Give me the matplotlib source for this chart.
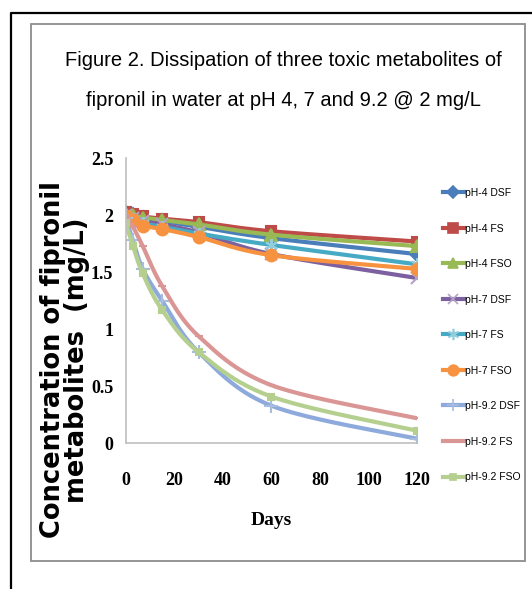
import numpy as np
import matplotlib
matplotlib.use('Agg')
import matplotlib.pyplot as plt
from matplotlib.lines import Line2D
from matplotlib.patches import Rectangle

days = [0, 3, 7, 15, 30, 60, 120]
ph4_dsf = [2.02, 2.00, 1.98, 1.95, 1.90, 1.80, 1.66]
ph4_fs = [2.03, 2.01, 1.99, 1.97, 1.94, 1.86, 1.77]
ph4_fso = [2.01, 2.00, 1.98, 1.96, 1.92, 1.83, 1.73]
ph7_dsf = [2.00, 1.98, 1.95, 1.92, 1.85, 1.66, 1.45]
ph7_fs = [2.00, 1.97, 1.93, 1.90, 1.84, 1.74, 1.57]
ph7_fso = [1.99, 1.96, 1.91, 1.88, 1.81, 1.65, 1.53]
ph92_dsf = [1.98, 1.78, 1.53, 1.25, 0.80, 0.33, 0.04]
ph92_fs = [2.00, 1.90, 1.73, 1.38, 0.94, 0.51, 0.22]
ph92_fso = [1.93, 1.73, 1.49, 1.17, 0.80, 0.41, 0.11]

labels = ['pH-4 DSF', 'pH-4 FS', 'pH-4 FSO', 'pH-7 DSF', 'pH-7 FS', 'pH-7 FSO',
          'pH-9.2 DSF', 'pH-9.2 FS', 'pH-9.2 FSO']
x_ticks = [0, 20, 40, 60, 80, 100, 120]
y_ticks = [0, 0.5, 1, 1.5, 2, 2.5]
y_tick_labels = ['0', '0.5', '1', '1.5', '2', '2.5']

series = [ph4_dsf, ph4_fs, ph4_fso, ph7_dsf, ph7_fs, ph7_fso, ph92_dsf, ph92_fs, ph92_fso]
colors = ['#4A7EBB', '#BE4B48', '#98B954', '#7D60A0', '#46AAC5', '#F69240',
          '#8EA9DB', '#DA9694', '#B5D08E']
marker_colors = ['#4A7EBB', '#BE4B48', '#98B954', '#B3A2C7', '#93CDDD', '#F69240',
                 '#A6BDE0', '#DA9694', '#B5D08E']
markers = ['D', 's', '^', 'x', (6, 2, 0), 'o', '+', '_', 's']
sizes = [7, 7.5, 8, 8, 9, 8.5, 10, 6, 5]


def smooth(x, y, n=25):
    # Excel style smoothed line (Catmull-Rom / Bezier)
    p = np.column_stack([x, y]).astype(float)
    out = []
    for i in range(len(p) - 1):
        p0 = p[i - 1] if i > 0 else p[i]
        p1, p2 = p[i], p[i + 1]
        p3 = p[i + 2] if i + 2 < len(p) else p[i + 1]
        c1 = p1 + (p2 - p0) / 6
        c2 = p2 - (p3 - p1) / 6
        t = np.linspace(0, 1, n)[:, None]
        out.append((1 - t) ** 3 * p1 + 3 * (1 - t) ** 2 * t * c1 + 3 * (1 - t) * t ** 2 * c2 + t ** 3 * p2)
    out = np.vstack(out)
    return out[:, 0], out[:, 1]


W, H = 532, 589
fig = plt.figure(figsize=(W / 100, H / 100), dpi=100)

# frames
fig.add_artist(Line2D([11 / W, 11 / W, 1.0], [0, 1 - 13 / H, 1 - 13 / H],
                      transform=fig.transFigure, color='black', lw=1.6))
fig.add_artist(Rectangle((31 / W, 1 - 561 / H), (525 - 31) / W, (561 - 24) / H,
                         transform=fig.transFigure, fill=False, ec='#8C8C8C', lw=1.3))

ax = fig.add_axes([125.7 / W, 1 - 443.3 / H, 291.3 / W, 285 / H])
ax.set_facecolor('none')

handles = []
for vals, c, mc, m, s, lab in zip(series, colors, marker_colors, markers, sizes, labels):
    sx, sy = smooth(days, vals)
    ax.plot(sx, sy, color=c, lw=3, solid_capstyle='round')
    ax.plot(days, vals, ls='none', marker=m, ms=s, color=mc, mec=mc, mew=1.5)
    handles.append(Line2D([], [], color=c, lw=3, marker=m, ms=s * 0.9, mfc=mc, mec=mc, mew=1.2))

ax.set_xlim(0, 120)
ax.set_ylim(0, 2.5)
ax.set_xticks(x_ticks)
ax.set_yticks(y_ticks)
ax.set_yticklabels(y_tick_labels)
for sp in ['top', 'right']:
    ax.spines[sp].set_visible(False)
for sp in ['left', 'bottom']:
    ax.spines[sp].set_color('#BFBFBF')
    ax.spines[sp].set_linewidth(1.2)
ax.tick_params(length=0)
ax.tick_params(axis='x', pad=21)
ax.tick_params(axis='y', pad=9)
for t in ax.get_xticklabels() + ax.get_yticklabels():
    t.set_fontfamily('Liberation Serif')
    t.set_fontweight('bold')
    t.set_fontsize(13)

ax.set_xlabel('Days', family='Liberation Serif', weight='bold', fontsize=14, labelpad=16)

fig.text(65 / W, 1 - 360 / H, 'Concentration of fipronil\nmetabolites  (mg/L)',
         rotation=90, ha='center', va='center', ma='center', fontsize=18.5,
         weight='bold', family='DejaVu Sans', linespacing=0.88)

title_font = ['Liberation Sans', 'DejaVu Sans']
fig.text(283 / W, 1 - 60 / H, 'Figure 2. Dissipation of three toxic metabolites of',
         ha='center', va='center', fontsize=14.5, family=title_font)
fig.text(283 / W, 1 - 100 / H, 'fipronil in water at pH 4, 7 and 9.2 @ 2 mg/L',
         ha='center', va='center', fontsize=14.5, family=title_font)

leg = fig.legend(handles, labels, loc='upper left', bbox_to_anchor=(443 / W, 1 - 188 / H),
                 frameon=False, borderpad=0, borderaxespad=0, handlelength=2.0,
                 handletextpad=0.15, labelspacing=2.45,
                 prop={'family': ['Liberation Sans', 'DejaVu Sans'], 'size': 7.5})

fig.savefig('out.png', dpi=100)
